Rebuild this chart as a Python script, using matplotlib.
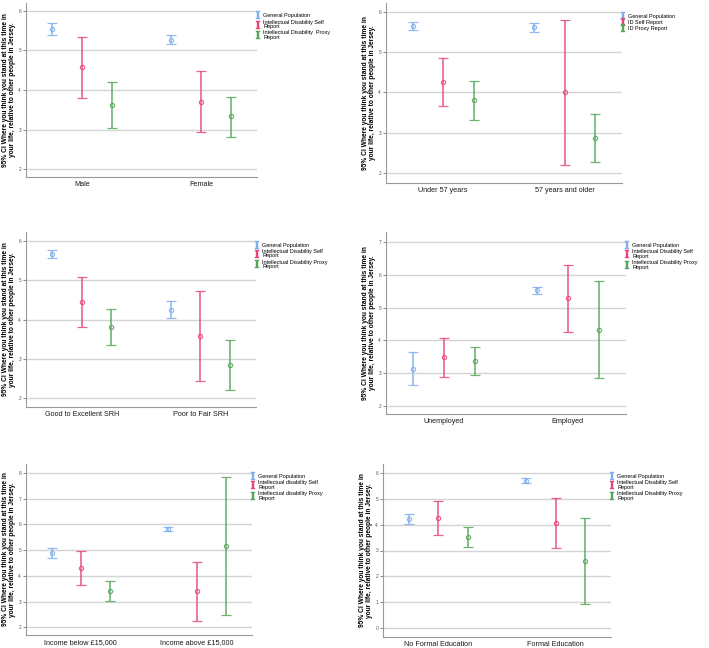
import matplotlib
matplotlib.use("Agg")
import matplotlib.pyplot as plt
from matplotlib.lines import Line2D

plt.rcParams["font.family"] = ["Liberation Sans", "DejaVu Sans"]

# colours for the three groups
c_gen = "#7fb0ee"
c_self = "#e8467a"
c_proxy = "#56a65a"

ylab = "95% CI Where you think you stand at this time in\nyour life, relative to other people in Jersey."

# panel 1 - sex
sex_cats = ["Male", "Female"]
sex_gen = [5.55, 5.27]
sex_gen_lo = [5.40, 5.16]
sex_gen_hi = [5.70, 5.38]
sex_self = [4.58, 3.70]
sex_self_lo = [3.81, 2.93]
sex_self_hi = [5.35, 4.48]
sex_proxy = [3.63, 3.33]
sex_proxy_lo = [3.05, 2.82]
sex_proxy_hi = [4.20, 3.82]
sex_legend = ["General Population", "Intellectual Disability Self\nReport",
              "Intellectual Disability  Proxy\nReport"]

# panel 2 - age
age_cats = ["Under 57 years", "57 years and older"]
age_gen = [5.66, 5.62]
age_gen_lo = [5.56, 5.51]
age_gen_hi = [5.76, 5.73]
age_self = [4.25, 4.00]
age_self_lo = [3.66, 2.20]
age_self_hi = [4.85, 5.80]
age_proxy = [3.80, 2.87]
age_proxy_lo = [3.31, 2.26]
age_proxy_hi = [4.28, 3.47]
age_legend = ["General Population", "ID Self Report", "ID Proxy Report"]

# panel 3 - self rated health
srh_cats = ["Good to Excellent SRH", "Poor to Fair SRH"]
srh_gen = [5.68, 4.25]
srh_gen_lo = [5.58, 4.04]
srh_gen_hi = [5.78, 4.46]
srh_self = [4.45, 3.58]
srh_self_lo = [3.80, 2.44]
srh_self_hi = [5.09, 4.72]
srh_proxy = [3.80, 2.85]
srh_proxy_lo = [3.34, 2.20]
srh_proxy_hi = [4.27, 3.49]
id_legend = ["General Population", "Intellectual Disability Self\nReport",
             "Intellectual Disability Proxy\nReport"]

# panel 4 - employment
emp_cats = ["Unemployed", "Employed"]
emp_gen = [3.14, 5.52]
emp_gen_lo = [2.65, 5.42]
emp_gen_hi = [3.64, 5.63]
emp_self = [3.49, 5.28]
emp_self_lo = [2.90, 4.25]
emp_self_hi = [4.08, 6.31]
emp_proxy = [3.37, 4.33]
emp_proxy_lo = [2.94, 2.87]
emp_proxy_hi = [3.81, 5.80]

# panel 5 - income
inc_cats = ["Income below £15,000", "Income above £15,000"]
inc_gen = [4.88, 5.82]
inc_gen_lo = [4.68, 5.74]
inc_gen_hi = [5.07, 5.90]
inc_self = [4.30, 3.40]
inc_self_lo = [3.65, 2.25]
inc_self_hi = [4.95, 4.55]
inc_proxy = [3.41, 5.15]
inc_proxy_lo = [3.02, 2.46]
inc_proxy_hi = [3.79, 7.84]
inc_legend = ["General Population", "Intellectual disability Self\nReport",
              "Intellectual disability Proxy\nReport"]

# panel 6 - education
edu_cats = ["No Formal Education", "Formal Education"]
edu_gen = [4.21, 5.71]
edu_gen_lo = [4.01, 5.63]
edu_gen_hi = [4.42, 5.80]
edu_self = [4.27, 4.06]
edu_self_lo = [3.60, 3.11]
edu_self_hi = [4.93, 5.02]
edu_proxy = [3.52, 2.60]
edu_proxy_lo = [3.12, 0.94]
edu_proxy_hi = [3.91, 4.27]

W, H = 709, 648
fig = plt.figure(figsize=(W / 100, H / 100), dpi=100)


def box(left, top, right, bottom):
    return [left / W, 1 - bottom / H, (right - left) / W, (bottom - top) / H]


def panel(rect, cats, series, legend, ylim, yticks):
    ax = fig.add_axes(box(*rect))
    pos = list(range(len(cats)))
    off = 0.25
    handles = []
    for k, (m, lo, hi, col) in enumerate(series):
        xs = [p + (k - 1) * off for p in pos]
        err = [[a - b for a, b in zip(m, lo)], [b - a for a, b in zip(m, hi)]]
        ax.errorbar(xs, m, yerr=err, fmt="o", color=col, ms=3,
                    mfc="none", mew=0.9, elinewidth=1.2, capsize=3.5,
                    capthick=1.2, alpha=0.85, zorder=3)
        handles.append(Line2D([], [], ls="none", marker=r"$\mathtt{I}$",
                              color=col, ms=5.5, mew=0.3))
    ax.set_xlim(-0.47, 1.47)
    ax.set_ylim(*ylim)
    ax.set_yticks(yticks)
    ax.tick_params(axis="y", labelsize=3.5, length=2, width=0.5, pad=1.5,
                   colors="#555555")
    ax.set_xticks(pos)
    ax.set_xticklabels(cats, fontsize=5.2, color="#1a1a1a")
    ax.tick_params(axis="x", length=0, pad=3)
    ax.grid(axis="y", color="#d4d4d4", lw=1.0, zorder=0)
    ax.set_axisbelow(True)
    for s in ["top", "right"]:
        ax.spines[s].set_visible(False)
    for s in ["left", "bottom"]:
        ax.spines[s].set_color("#999999")
        ax.spines[s].set_linewidth(0.8)
    ax.set_ylabel(ylab, fontsize=4.8, fontweight="bold", linespacing=1.0, labelpad=1.5)
    leg = ax.legend(handles, legend, loc="upper left", bbox_to_anchor=(1.0, 0.94),
                    frameon=False, fontsize=4.0, handlelength=0.5, handletextpad=0.6,
                    labelspacing=0.2, borderaxespad=0, borderpad=0)
    for t in leg.get_texts():
        t.set_linespacing(0.95)
    return ax


panel((26, 3, 257, 177), sex_cats,
      [(sex_gen, sex_gen_lo, sex_gen_hi, c_gen),
       (sex_self, sex_self_lo, sex_self_hi, c_self),
       (sex_proxy, sex_proxy_lo, sex_proxy_hi, c_proxy)],
      sex_legend, (1.8, 6.2), range(2, 7))

panel((386, 3, 622, 183), age_cats,
      [(age_gen, age_gen_lo, age_gen_hi, c_gen),
       (age_self, age_self_lo, age_self_hi, c_self),
       (age_proxy, age_proxy_lo, age_proxy_hi, c_proxy)],
      age_legend, (1.75, 6.22), range(2, 7))

panel((26, 232, 256, 407), srh_cats,
      [(srh_gen, srh_gen_lo, srh_gen_hi, c_gen),
       (srh_self, srh_self_lo, srh_self_hi, c_self),
       (srh_proxy, srh_proxy_lo, srh_proxy_hi, c_proxy)],
      id_legend, (1.77, 6.23), range(2, 7))

panel((386, 232, 626, 414), emp_cats,
      [(emp_gen, emp_gen_lo, emp_gen_hi, c_gen),
       (emp_self, emp_self_lo, emp_self_hi, c_self),
       (emp_proxy, emp_proxy_lo, emp_proxy_hi, c_proxy)],
      id_legend, (1.76, 7.3), range(2, 8))

panel((26, 464, 252, 635), inc_cats,
      [(inc_gen, inc_gen_lo, inc_gen_hi, c_gen),
       (inc_self, inc_self_lo, inc_self_hi, c_self),
       (inc_proxy, inc_proxy_lo, inc_proxy_hi, c_proxy)],
      inc_legend, (1.7, 8.35), range(2, 9))

panel((383, 464, 611, 637), edu_cats,
      [(edu_gen, edu_gen_lo, edu_gen_hi, c_gen),
       (edu_self, edu_self_lo, edu_self_hi, c_self),
       (edu_proxy, edu_proxy_lo, edu_proxy_hi, c_proxy)],
      id_legend, (-0.35, 6.35), range(0, 7))

fig.savefig("out.png", dpi=100)
